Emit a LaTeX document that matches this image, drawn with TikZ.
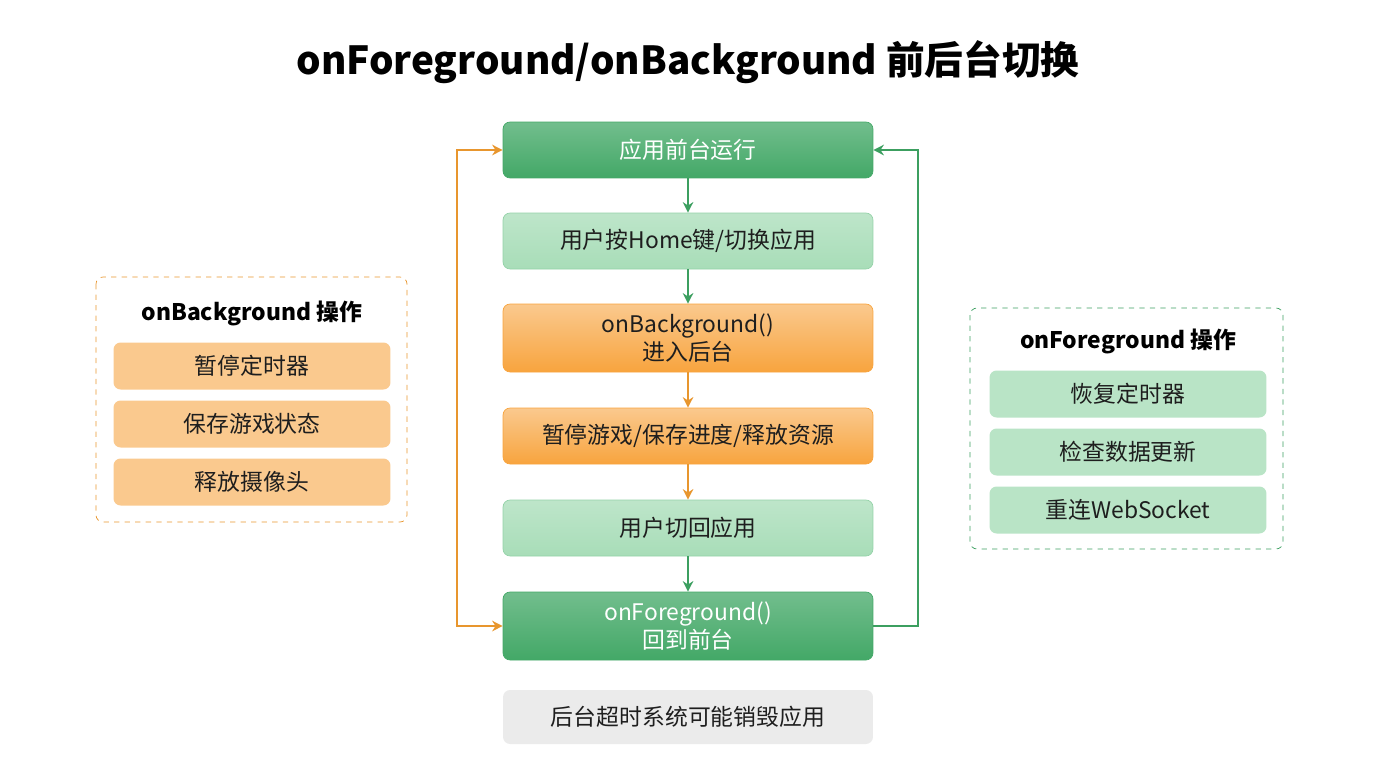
\documentclass[tikz,border=0pt]{standalone}
\usepackage{fontspec}
\setmainfont{Noto Sans CJK SC}
\usetikzlibrary{positioning,arrows.meta}
\definecolor{DarkGreen}{HTML}{43A867}
\definecolor{LightGreen}{HTML}{A8DDB8}
\definecolor{DarkOrange}{HTML}{F8A43E}
\definecolor{LightOrange}{HTML}{FAC98E}
\definecolor{PaleGray}{HTML}{EBEBEB}
\definecolor{TextGray}{HTML}{1E1E1E}
\definecolor{LineGreen}{HTML}{3C9F60}
\definecolor{LineOrange}{HTML}{E8962E}
\tikzset{
  flowstep/.style={rounded corners=4pt, minimum width=7.4cm, align=center, font=\fontsize{13}{16}\selectfont, text=TextGray},
  darkstep/.style={flowstep, top color=DarkGreen!75, bottom color=DarkGreen, draw=DarkGreen, text=white},
  greenstep/.style={flowstep, top color=LightGreen!75, bottom color=LightGreen, draw=LightGreen!80!DarkGreen},
  orangestep/.style={flowstep, top color=LightOrange, bottom color=DarkOrange, draw=DarkOrange},
  graystep/.style={flowstep, fill=PaleGray},
  item/.style={rounded corners=4pt, minimum width=5.54cm, minimum height=0.94cm, font=\fontsize{13}{16}\selectfont, text=TextGray},
  flow/.style={-{Stealth[length=6pt,width=6pt]}, line width=1.2pt},
}
\begin{document}
\begin{tikzpicture}[x=0.02cm, y=-0.02cm]
 \useasboundingbox (0,0) rectangle (1376,768);
 \node[font=\bfseries\fontsize{22}{26}\selectfont] (title) at (688,62) {onForeground/onBackground 前后台切换};

 %%%%%%%%%% Flux principal %%%%%%%%%%
 \node[darkstep, minimum height=1.12cm] (run) at (688,150) {应用前台运行};
 \node[greenstep, minimum height=1.12cm] (home) at (688,241) {用户按Home键/切换应用};
 \node[orangestep, minimum height=1.36cm] (bg) at (688,338) {onBackground()\\进入后台};
 \node[orangestep, minimum height=1.12cm] (pause) at (688,436) {暂停游戏/保存进度/释放资源};
 \node[greenstep, minimum height=1.12cm] (back) at (688,528) {用户切回应用};
 \node[darkstep, minimum height=1.36cm] (fg) at (688,626) {onForeground()\\回到前台};
 \node[graystep, minimum height=1.08cm] (kill) at (688,717) {后台超时系统可能销毁应用};

 \draw[flow, LineGreen] (run) -- (home);
 \draw[flow, LineGreen] (home) -- (bg);
 \draw[flow, LineOrange] (bg) -- (pause);
 \draw[flow, LineOrange] (pause) -- (back);
 \draw[flow, LineGreen] (back) -- (fg);

 %%%%%%%%%% Boucles %%%%%%%%%%
 \coordinate (loopL) at (457,388);
 \draw[flow, LineOrange] (loopL) |- (run.west);
 \draw[flow, LineOrange] (loopL) |- (fg.west);
 \coordinate (loopR) at (918,626);
 \draw[flow, LineGreen] (fg.east) -- (loopR) |- (run.east);

 %%%%%%%%%% Panneau gauche %%%%%%%%%%
 \draw[LineOrange, dashed, rounded corners=4pt] (96,277) rectangle (407,522);
 \node[font=\bfseries\fontsize{13}{16}\selectfont] (bgtitle) at (252,313) {onBackground 操作};
 \node[item, fill=LightOrange] (b1) at (252,366) {暂停定时器};
 \node[item, fill=LightOrange] (b2) at (252,424) {保存游戏状态};
 \node[item, fill=LightOrange] (b3) at (252,482) {释放摄像头};

 %%%%%%%%%% Panneau droit %%%%%%%%%%
 \draw[LineGreen, dashed, rounded corners=4pt] (970,308) rectangle (1283,549);
 \node[font=\bfseries\fontsize{13}{16}\selectfont] (fgtitle) at (1128,341) {onForeground 操作};
 \node[item, fill=LightGreen!80] (f1) at (1128,394) {恢复定时器};
 \node[item, fill=LightGreen!80] (f2) at (1128,452) {检查数据更新};
 \node[item, fill=LightGreen!80] (f3) at (1128,510) {重连WebSocket};
\end{tikzpicture}
\end{document}
